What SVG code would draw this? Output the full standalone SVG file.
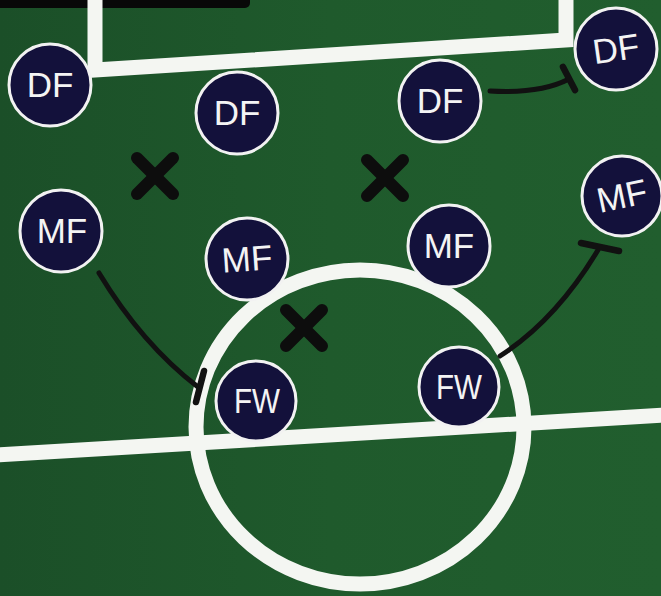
<svg xmlns="http://www.w3.org/2000/svg" width="661" height="596" viewBox="0 0 661 596">
  <defs>
    <linearGradient id="grass" x1="0" y1="0" x2="1" y2="0">
      <stop offset="0" stop-color="#1b4f28"/>
      <stop offset="0.5" stop-color="#1f5a2c"/>
      <stop offset="1" stop-color="#215e2e"/>
    </linearGradient>
    <style>
      .line { fill: none; stroke: #f4f6f2; stroke-width: 15; }
      .node circle { fill: #13113b; stroke: #f2f2f2; stroke-width: 3; }
      .node text { fill: #f4f4f4; font-family: "Liberation Sans", Arial, sans-serif; font-size: 35px; text-anchor: middle; }
      .conn { fill: none; stroke: #111111; stroke-width: 5; stroke-linecap: round; }
      .bar { stroke: #111111; stroke-width: 6.5; stroke-linecap: round; }
      .x { stroke: #0d0d0d; stroke-width: 12; stroke-linecap: round; }
    </style>
  </defs>

  <!-- pitch -->
  <rect x="0" y="0" width="661" height="596" fill="url(#grass)"/>
  <rect x="-5" y="-5" width="255" height="13" rx="5" fill="#080808"/>
  <g id="pitch-lines">
    <path class="line" d="M95,-10 L95,70 L566,40 L566,-10" stroke-width="15"/>
    <line class="line" x1="-5" y1="455" x2="666" y2="415"/>
    <ellipse class="line" cx="360" cy="427" rx="164" ry="157" stroke-width="14"/>
  </g>

  <!-- crosses -->
  <g id="crosses">
    <g transform="translate(155,176)"><line class="x" x1="-18" y1="-18" x2="18" y2="18"/><line class="x" x1="18" y1="-18" x2="-18" y2="18"/></g>
    <g transform="translate(385,178)"><line class="x" x1="-18" y1="-18" x2="18" y2="18"/><line class="x" x1="18" y1="-18" x2="-18" y2="18"/></g>
    <g transform="translate(304,328)"><line class="x" x1="-18" y1="-18" x2="18" y2="18"/><line class="x" x1="18" y1="-18" x2="-18" y2="18"/></g>
  </g>

  <!-- connectors -->
  <g id="connectors">
    <path class="conn" d="M490,91 Q540,94 569,79"/>
    <line class="bar" x1="563" y1="67" x2="575" y2="90"/>
    <path class="conn" d="M99,273 Q142,344 198,387"/>
    <line class="bar" x1="204" y1="371" x2="196" y2="402"/>
    <path class="conn" d="M500,356 Q556,320 598,250"/>
    <line class="bar" x1="581" y1="243" x2="619" y2="251"/>
  </g>

  <!-- nodes -->
  <g id="df1" class="node"><circle cx="50" cy="85" r="41"/><text x="50" y="97">DF</text></g>
  <g id="df2" class="node"><circle cx="237" cy="113" r="41"/><text x="237" y="125">DF</text></g>
  <g id="df3" class="node"><circle cx="440" cy="101" r="41"/><text x="440" y="113">DF</text></g>
  <g id="df4" class="node"><circle cx="616" cy="49" r="41"/><text x="616" y="61" transform="rotate(-8 616 49)">DF</text></g>
  <g id="mf1" class="node"><circle cx="61" cy="231" r="41"/><text x="62" y="243">MF</text></g>
  <g id="mf2" class="node"><circle cx="247" cy="259" r="41"/><text x="247" y="271" transform="rotate(-4 247 259)">MF</text></g>
  <g id="mf3" class="node"><circle cx="449" cy="246" r="41"/><text x="449" y="258">MF</text></g>
  <g id="mf4" class="node"><circle cx="622" cy="196" r="40"/><text x="622" y="208" transform="rotate(-12 622 196)">MF</text></g>
  <g id="fw1" class="node"><circle cx="256" cy="401" r="40"/><text x="257" y="413" textLength="46" lengthAdjust="spacingAndGlyphs">FW</text></g>
  <g id="fw2" class="node"><circle cx="459" cy="387" r="40"/><text x="459" y="399" textLength="46" lengthAdjust="spacingAndGlyphs">FW</text></g>
</svg>
